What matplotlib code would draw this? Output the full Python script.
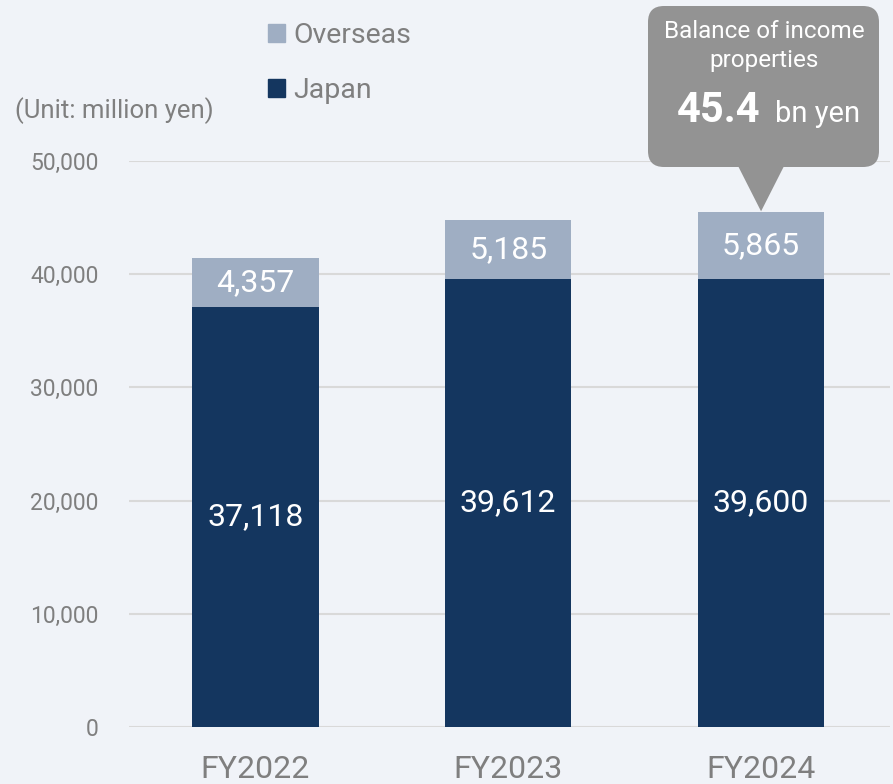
import matplotlib.pyplot as plt
from matplotlib.patches import FancyBboxPatch, Polygon, Patch

plt.rcParams['font.family'] = ['Roboto', 'DejaVu Sans']

years = ['FY2022', 'FY2023', 'FY2024']
japan = [37118, 39612, 39600]
overseas = [4357, 5185, 5865]
yticks = [0, 10000, 20000, 30000, 40000, 50000]

bg = '#F0F3F8'
c_japan = '#14365F'
c_over = '#9FAEC3'
txt = '#7F7F7F'

fig = plt.figure(figsize=(8.93, 7.84), dpi=100, facecolor=bg)
ax = fig.add_axes([129 / 893, 57 / 784, 761 / 893, 566 / 784])
ax.set_facecolor(bg)

x = range(len(years))
b1 = ax.bar(x, japan, width=0.5, color=c_japan, zorder=3)
b2 = ax.bar(x, overseas, width=0.5, bottom=japan, color=c_over, zorder=3)

# value labels in the middle of each segment
for i in x:
    ax.text(i, japan[i] / 2, f'{japan[i]:,}', ha='center', va='center',
            color='white', fontsize=23, zorder=4)
    ax.text(i, japan[i] + overseas[i] / 2, f'{overseas[i]:,}', ha='center',
            va='center', color='white', fontsize=23, zorder=4)

ax.set_xlim(-0.5, 2.51)
ax.set_ylim(0, 50000)
ax.set_yticks(yticks)
ax.set_yticklabels([f'{v:,}' for v in yticks])
ax.set_xticks(list(x))
ax.set_xticklabels(years)
ax.tick_params(axis='y', length=0, pad=22, labelsize=16.5, labelcolor=txt)
ax.tick_params(axis='x', length=0, pad=20, labelsize=23, labelcolor=txt)
ax.grid(axis='y', color='#D9D9D9', linewidth=1.5, zorder=0)
for s in ax.spines.values():
    s.set_visible(False)

fig.text(15 / 893, 1 - 111 / 784, '(Unit: million yen)', fontsize=18.5,
         color=txt, va='center', ha='left')

leg = fig.legend(handles=[Patch(color=c_over, label='Overseas'),
                          Patch(color=c_japan, label='Japan')],
                 loc='upper left', bbox_to_anchor=(268 / 893, 1 - 22 / 784),
                 frameon=False, fontsize=20.5, handlelength=0.6,
                 handleheight=0.6, handletextpad=0.3, labelspacing=1.0,
                 borderpad=0, borderaxespad=0)
for t in leg.get_texts():
    t.set_color(txt)

# callout over the FY2024 bar
ov = fig.add_axes([0, 0, 1, 1], facecolor='none')
ov.set_xlim(0, 893)
ov.set_ylim(0, 784)
ov.axis('off')
fig.canvas.draw()
tip = ax.transData.transform((2, japan[2] + overseas[2]))
tx, ty = tip[0], tip[1] + 1
box = FancyBboxPatch((648, 784 - 167), 231, 161,
                     boxstyle='round,pad=0,rounding_size=16',
                     facecolor='#939393', edgecolor='none')
ov.add_patch(box)
ov.add_patch(Polygon([(tx - 23, 784 - 166), (tx + 23, 784 - 166), (tx, ty)],
                     closed=True, facecolor='#939393', edgecolor='none'))
ov.text(764, 784 - 31, 'Balance of income', ha='center', va='center',
        color='white', fontsize=17.5)
ov.text(764, 784 - 60, 'properties', ha='center', va='center',
        color='white', fontsize=17.5)
ov.text(761, 784 - 110, '45.4', ha='right', va='center', color='white',
        fontsize=30, fontweight='bold')
ov.text(775, 784 - 114, 'bn yen', ha='left', va='center', color='white',
        fontsize=21)

fig.savefig('out.png', dpi=100, facecolor=bg)
